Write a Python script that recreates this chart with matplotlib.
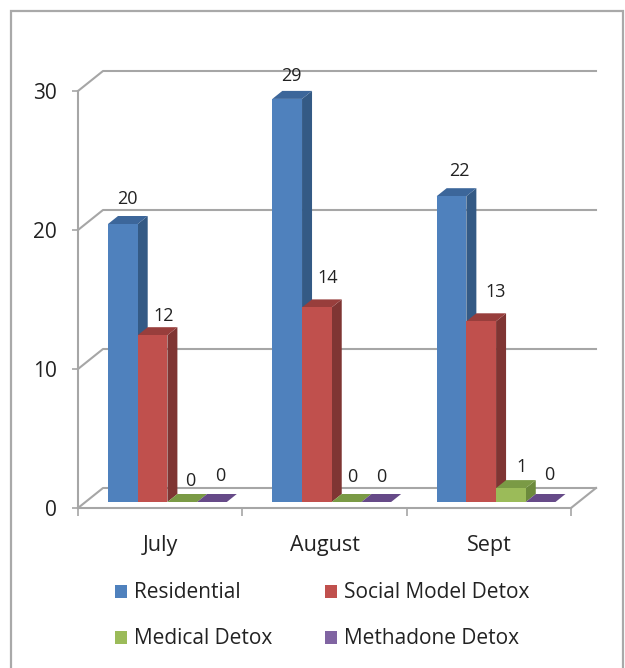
import matplotlib
matplotlib.use("Agg")
import matplotlib.pyplot as plt
from matplotlib.patches import Rectangle

months = ["July", "August", "Sept"]
series_names = ["Residential", "Social Model Detox", "Medical Detox", "Methadone Detox"]
residential = [20, 29, 22]
social_detox = [12, 14, 13]
medical_detox = [0, 0, 1]
methadone_detox = [0, 0, 0]
series_values = [residential, social_detox, medical_detox, methadone_detox]

# front, side and top shades of each 3d bar
front_colors = ["#4F81BD", "#C0504D", "#9BBB59", "#8064A2"]
side_colors = ["#345A85", "#7F3533", "#6C8A3C", "#5B4478"]
top_colors = ["#3C669A", "#983E3C", "#7A9A45", "#664A88"]

# label nudges in pixels from the middle of the bar's top edge
label_dx = [[5, 4, 8], [11, 11, 14], [8, 6, 11], [8, 5, 9]]
label_dy = [[25, 23, 25], [19, 29, 29], [21, 25, 21], [26, 25, 27]]

W, H = 625, 668
grid_color = "#A6A6A6"
text_color = "#222222"
plt.rcParams["font.family"] = ["Open Sans", "DejaVu Sans"]

fig = plt.figure(figsize=(W / 100, H / 100), dpi=100)
ax = fig.add_axes([78 / W, 1 - 508 / H, 493 / W, 417 / H])
ax.set_xlim(0, 3)
ax.set_ylim(0, 30)

px_x = 3 / 493
px_y = 30 / 417

# wall and floor depth
wall_dx, wall_dy = 25 * px_x, 20 * px_y
for v in [0, 10, 20, 30]:
    ax.plot([0, wall_dx, 3 + wall_dx], [v, v + wall_dy, v + wall_dy],
            color=grid_color, lw=1.5, clip_on=False, zorder=1)
ax.plot([3, 3 + wall_dx], [0, wall_dy], color=grid_color, lw=1.5, clip_on=False, zorder=1)

# bars stand a little behind the front edge of the floor
lift = 6 * px_y
bar_w = 29.7 * px_x
start = 30 * px_x
depth_x, depth_y = 10 * px_x, 8 * px_y

handles = []
for s, values in enumerate(series_values):
    for m, v in enumerate(values):
        x0 = m + start + s * bar_w
        x1 = x0 + bar_w
        top = lift + v
        z = 3 + s
        ax.fill([x1, x1 + depth_x, x1 + depth_x, x1],
                [lift, lift + depth_y, top + depth_y, top],
                color=side_colors[s], lw=0, zorder=z, clip_on=False)
        ax.fill([x0, x1, x1 + depth_x, x0 + depth_x],
                [top, top, top + depth_y, top + depth_y],
                color=top_colors[s], lw=0, zorder=z, clip_on=False)
        ax.annotate(str(v), (x0 + bar_w / 2, top),
                    xytext=(label_dx[s][m], label_dy[s][m]), textcoords="offset pixels",
                    ha="center", va="center", fontsize=13, color=text_color, zorder=10)
    xs = [m + start + s * bar_w for m in range(len(months))]
    bars = ax.bar(xs, values, width=bar_w, bottom=lift, align="edge",
                  color=front_colors[s], lw=0, zorder=3 + s + 0.5, label=series_names[s])
    handles.append(bars)

for name in ["top", "right"]:
    ax.spines[name].set_visible(False)
for name in ["left", "bottom"]:
    ax.spines[name].set_color(grid_color)
    ax.spines[name].set_linewidth(1.5)
ax.patch.set_alpha(0)

ax.set_yticks([0, 10, 20, 30])
ax.tick_params(axis="y", length=4.5, width=1.2, color=grid_color, pad=11,
               labelsize=15, labelcolor=text_color)
ax.set_xticks([0, 1, 2, 3], minor=True)
ax.set_xticks([0.5, 1.5, 2.5], months)
ax.tick_params(axis="x", which="major", length=0, pad=19.5, labelsize=15.5, labelcolor=text_color)
ax.tick_params(axis="x", which="minor", length=6, width=1.2, color=grid_color)

# column-first fill gives two rows of two
order = [0, 2, 1, 3]
fig.legend([handles[i] for i in order], [series_names[i] for i in order],
           ncol=2, frameon=False, loc="upper left", bbox_to_anchor=(115 / W, 1 - 582.5 / H),
           handlelength=0.58, handleheight=0.58, handletextpad=0.33, columnspacing=2.55,
           labelspacing=1.2, fontsize=15, labelcolor=text_color, borderpad=0, borderaxespad=0)

# chart-area border, its bottom edge runs off the figure
fig.add_artist(Rectangle((10.5 / W, -0.05), 612 / W, 1.05 - 10.5 / H, transform=fig.transFigure,
                         fill=False, edgecolor="#A9A9A9", lw=1.6))

fig.savefig("out.png", dpi=100)
